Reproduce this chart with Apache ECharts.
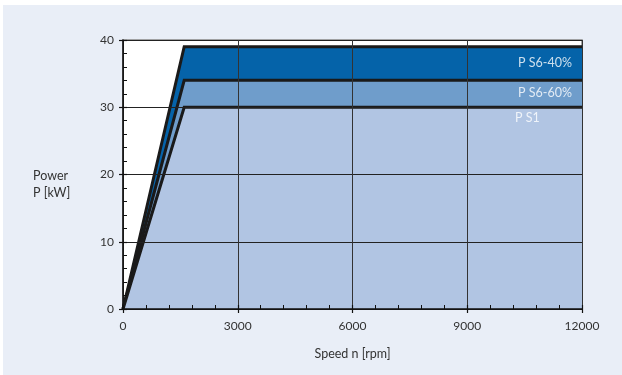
<!DOCTYPE html>
<html><head><meta charset="utf-8">
<script src="https://cdn.jsdelivr.net/npm/echarts@6/dist/echarts.min.js"></script>
<style>
html,body{margin:0;padding:0;background:#fff;}
#panel{position:absolute;left:3px;top:5px;width:619px;height:370px;background:#e9eef7;}
#c{position:absolute;left:0;top:0;width:622px;height:375px;}
</style></head>
<body><div id="panel"></div><div id="c"></div>
<script>
const seriesNames = ['P S6-40%', 'P S6-60%', 'P S1'];
const speed = [0, 1600, 12000];
const powerS640 = [0, 39, 39];
const powerS660 = [0, 34, 34];
const powerS1 = [0, 30, 30];
const xTicks = [0, 3000, 6000, 9000, 12000];
const yTicks = [0, 10, 20, 30, 40];
const yTitle = 'Power\nP [kW]';
const xTitle = 'Speed n [rpm]';
const fills = ['#0563a9', '#6f9dcb', '#b1c5e3'];
const labelPos = [[-10, 16, 'right'], [-10, 13, 'right'], [-67, 11, 'left']];
const font = 'Lato, "Open Sans", sans-serif';

const allY = [powerS640, powerS660, powerS1];
const series = [];
allY.forEach((ys, i) => {
  series.push({
    name: seriesNames[i], type: 'line', data: speed.map((x, k) => [x, ys[k]]), symbol: 'none', z: 2 + i,
    lineStyle: { color: '#1a1a1a', width: 3, join: 'miter' },
    areaStyle: { color: fills[i], opacity: 1 },
    silent: true
  });
});
allY.forEach((ys, i) => {
  const k = speed.length - 1;
  series.push({
    name: seriesNames[i] + ' label', type: 'scatter', symbolSize: 0, z: 20, silent: true,
    data: [[speed[k], ys[k]]],
    label: {
      show: true, formatter: seriesNames[i], color: '#fff', fontSize: 12.5, fontFamily: font,
      position: [labelPos[i][0], labelPos[i][1]], align: labelPos[i][2], verticalAlign: 'middle'
    }
  });
});

const chart = echarts.init(document.getElementById('c'), null, { renderer: 'canvas' });
const common = { min: 0, type: 'value' };
chart.setOption({
  animation: false,
  graphic: [{
    type: 'text', left: 33, top: 167, silent: true,
    style: { text: yTitle, fill: '#333', fontSize: 12.5, fontFamily: font, lineHeight: 17 }
  }],
  grid: { left: 123, right: 40, top: 40, bottom: 66, show: true, backgroundColor: '#fff', borderColor: '#888', borderWidth: 1.5 },
  xAxis: [
    Object.assign({}, common, {
      max: 12000, interval: 3000,
      name: xTitle, nameLocation: 'middle', nameGap: 38,
      nameTextStyle: { color: '#333', fontSize: 12.5, fontFamily: font },
      axisLine: { lineStyle: { color: '#111', width: 1.5 } },
      axisTick: { show: true, inside: false, length: 4, lineStyle: { color: '#111', width: 1.2 } },
      axisLabel: { color: '#333', fontSize: 12, fontFamily: font, margin: 11, formatter: v => xTicks.includes(v) ? String(v) : '' },
      splitLine: { show: true, lineStyle: { color: '#333', width: 1 } },
      z: 10
    }),
    Object.assign({}, common, {
      max: 12000, interval: 3000, position: 'bottom',
      axisLine: { show: false }, axisLabel: { show: false }, splitLine: { show: false },
      axisTick: { show: true, inside: true, length: 4, lineStyle: { color: '#111', width: 1.2 } },
      minorTick: { show: true, splitNumber: 5, length: 4, lineStyle: { color: '#111', width: 1 } },
      z: 10
    })
  ],
  yAxis: [
    Object.assign({}, common, {
      max: 40, interval: 10,
      axisLine: { show: true, lineStyle: { color: '#111', width: 1.5 } },
      axisTick: { show: true, inside: false, length: 4, lineStyle: { color: '#111', width: 1.2 } },
      axisLabel: { color: '#333', fontSize: 12, fontFamily: font, margin: 9, formatter: v => yTicks.includes(v) ? String(v) : '' },
      splitLine: { show: true, lineStyle: { color: '#222', width: 1 } },
      z: 10
    }),
    Object.assign({}, common, {
      max: 40, interval: 10, position: 'left',
      axisLine: { show: false }, axisLabel: { show: false }, splitLine: { show: false },
      axisTick: { show: true, inside: true, length: 4, lineStyle: { color: '#111', width: 1.2 } },
      minorTick: { show: true, splitNumber: 5, length: 4, lineStyle: { color: '#111', width: 1 } },
      z: 10
    })
  ],
  series: series
});
</script></body></html>
